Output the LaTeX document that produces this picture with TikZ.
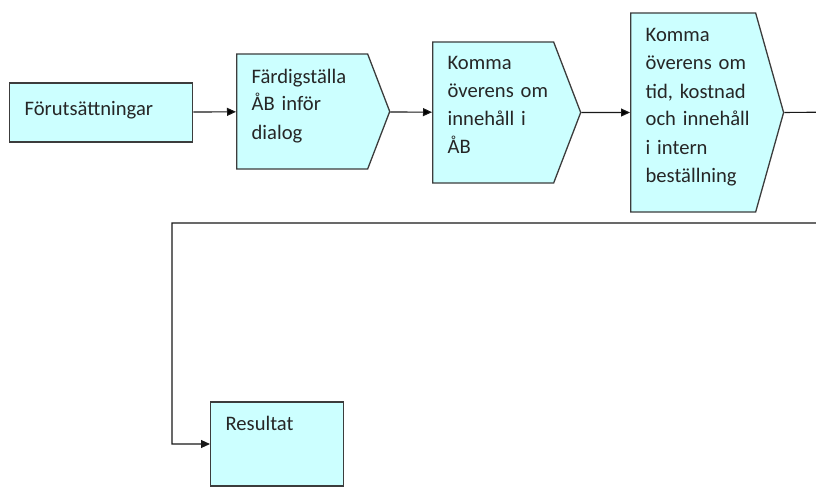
\documentclass[tikz,border=0pt]{standalone}
\usepackage{fontspec}
\setmainfont{Carlito}
\usetikzlibrary{shapes.symbols,arrows.meta}

\definecolor{boxfill}{RGB}{204,255,255}
\definecolor{boxline}{RGB}{60,60,60}
\definecolor{textgray}{RGB}{38,38,38}
\newcommand{\stepfont}{\fontsize{20.6}{28}\selectfont\hyphenpenalty=10000\exhyphenpenalty=10000\hbadness=10000\hfuzz=50pt}

\tikzset{
	plainbox/.style={shape=rectangle, draw=boxline, fill=boxfill, line width=1.3pt,
		inner xsep=15pt, inner ysep=0pt, text=textgray, align=left, font=\stepfont, anchor=west},
	stepbox/.style={plainbox, shape=signal, signal to=east, signal from=nowhere},
	flow/.style={-{Triangle[length=9pt,width=8pt]}, line width=1.1pt, draw=black!90}
}

\begin{document}
\begin{tikzpicture}[x=1pt, y=-1pt]
	\useasboundingbox (0,0) rectangle (816,487);
	\clip (0,0) rectangle (816,487);

	\node[plainbox, text width=153pt, text height=32pt, text depth=27pt]                         (start)  at (9,112.5)   {Förutsättningar};
	\node[stepbox, signal pointer angle=138, text width=101pt, text height=29pt, text depth=86pt]  (dialog) at (236,111.5) {Färdigställa\\\mbox{ÅB inför}\\dialog};
	\node[stepbox, signal pointer angle=138, text width=91pt, text height=28pt, text depth=113pt] (agree)  at (432,112.5) {Komma\\\mbox{överens om}\\\mbox{innehåll i}\\ÅB};
	\node[stepbox, signal pointer angle=148.6, text width=95pt, text height=29pt, text depth=170pt] (order) at (630,112.5) {Komma\\\mbox{överens om}\\\mbox{tid, kostnad}\\\mbox{och innehåll}\\\mbox{i intern}\\beställning};
	\node[plainbox, text width=103pt, text height=28pt, text depth=56pt]                         (result) at (210,444)    {Resultat};

	\path[flow] (start)  edge (dialog);
	\path[flow] (dialog) edge (agree);
	\path[flow] (agree)  edge (order);
	\draw[flow] (order.east) -- (840,112) |- (172,223) |- (result.west);
\end{tikzpicture}
\end{document}
